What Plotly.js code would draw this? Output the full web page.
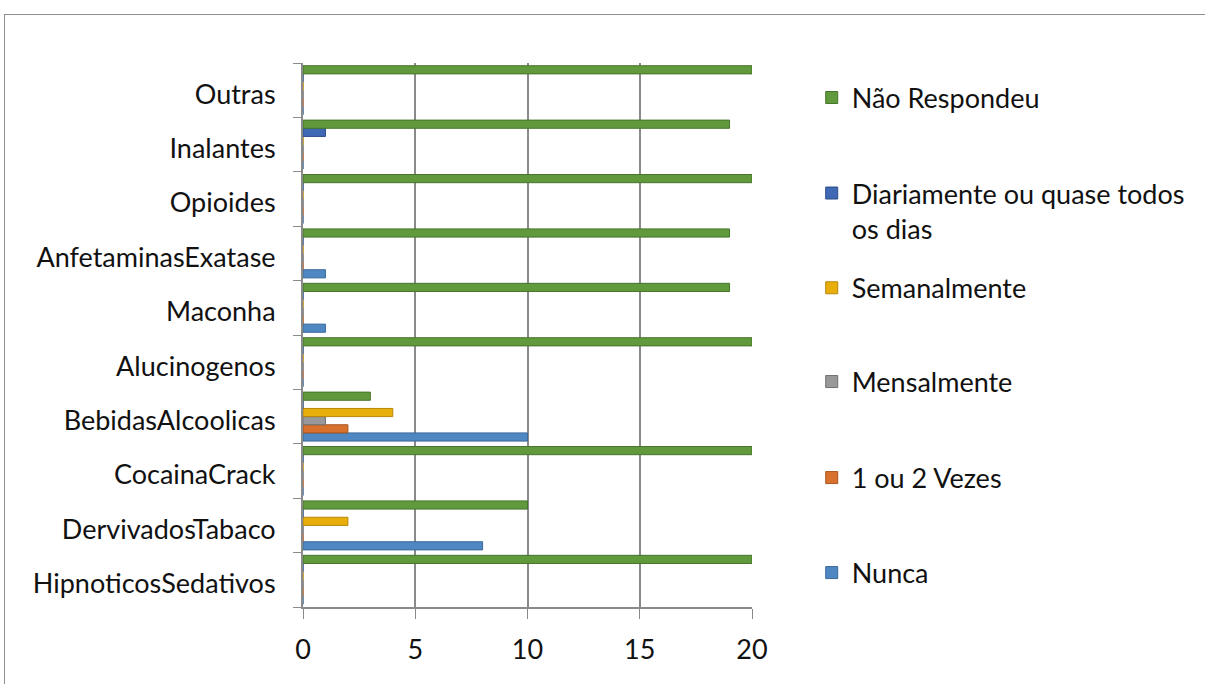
<!DOCTYPE html>
<html>
<head>
<meta charset="utf-8">
<script src="https://cdn.plot.ly/plotly-3.0.1.min.js"></script>
<style>
  html, body { margin: 0; padding: 0; background: #fff; overflow: hidden; }
  #wrap { position: relative; width: 1205px; height: 684px; overflow: hidden; }
  #frame { position: absolute; left: 4px; top: 14px; width: 1400px; height: 900px;
           border: 1.5px solid #8f8f8f; box-sizing: border-box; pointer-events: none; }
  #chart { position: absolute; left: 0; top: 0; width: 1205px; height: 684px; }
</style>
</head>
<body>
<div id="wrap">
  <div id="chart"></div>
  <div id="frame"></div>
</div>
<script>
// Substances, listed bottom to top
const categories = ['HipnoticosSedativos', 'DervivadosTabaco', 'CocainaCrack', 'BebidasAlcoolicas',
  'Alucinogenos', 'Maconha', 'AnfetaminasExatase', 'Opioides', 'Inalantes', 'Outras'];

// Answers per frequency of use
const nunca      = [0, 8, 0, 10, 0, 1, 1, 0, 0, 0];
const umOuDois   = [0, 0, 0, 2, 0, 0, 0, 0, 0, 0];
const mensal     = [0, 0, 0, 1, 0, 0, 0, 0, 0, 0];
const semanal    = [0, 2, 0, 4, 0, 0, 0, 0, 0, 0];
const diario     = [0, 0, 0, 0, 0, 0, 0, 0, 1, 0];
const naoResp    = [20, 10, 20, 3, 20, 19, 19, 20, 19, 20];

const seriesNames = ['Nunca', '1 ou 2 Vezes', 'Mensalmente', 'Semanalmente',
  'Diariamente ou quase todos<br>os dias', 'Não Respondeu'];
const seriesValues = [nunca, umOuDois, mensal, semanal, diario, naoResp];
const fills = ['#4f87c2', '#d8712e', '#999999', '#e8ae0c', '#3f68b5', '#609a3c'];
const edges = ['#3a6a9c', '#a9561f', '#6f6f6f', '#b78708', '#2e4f8a', '#47742b'];

// Each series gets its own legend box so the key entries can be spaced freely
const legendIds = ['legend', 'legend2', 'legend3', 'legend4', 'legend5', 'legend6'];
const legendY = [0.0625, 0.2371, 0.4136, 0.586, 0.728, 0.9357];

const traces = seriesNames.map((name, i) => ({
  type: 'bar',
  orientation: 'h',
  name: name,
  y: categories,
  x: seriesValues[i],
  legend: legendIds[i],
  marker: { color: fills[i], line: { color: edges[i], width: 1 } },
  hoverinfo: 'x+name'
}));

const font = { family: 'Lato, "Open Sans", sans-serif', size: 27, color: '#111111' };

const layout = {
  width: 1205,
  height: 684,
  margin: { l: 303, r: 453, t: 63, b: 77 },
  paper_bgcolor: 'rgba(0,0,0,0)',
  plot_bgcolor: 'rgba(0,0,0,0)',
  font: font,
  barmode: 'group',
  bargap: 0.1,
  bargroupgap: 0,
  showlegend: true,
  xaxis: {
    range: [0, 20],
    tickvals: [0, 5, 10, 15, 20],
    ticktext: ['0', '5', '10', '15', '20'],
    showgrid: true,
    gridcolor: '#8a8a8a',
    gridwidth: 2,
    zeroline: false,
    showline: true,
    linecolor: '#8a8a8a',
    linewidth: 2,
    ticks: 'outside',
    ticklen: 10,
    tickcolor: '#8a8a8a',
    ticklabelstandoff: 8,
    fixedrange: true
  },
  yaxis: {
    type: 'category',
    categoryorder: 'array',
    categoryarray: categories,
    showgrid: false,
    zeroline: false,
    showline: true,
    linecolor: '#8a8a8a',
    linewidth: 2,
    ticks: 'outside',
    tickson: 'boundaries',
    ticklen: 8,
    tickcolor: '#8a8a8a',
    ticklabelstandoff: 20,
    ticklabelshift: 4,
    fixedrange: true
  }
};

legendIds.forEach((id, i) => {
  layout[id] = {
    x: 1.133, xanchor: 'left',
    y: legendY[i], yanchor: 'middle',
    valign: 'top',
    font: font,
    bgcolor: 'rgba(0,0,0,0)',
    itemwidth: 30,
    itemclick: false,
    itemdoubleclick: false
  };
});

Plotly.newPlot('chart', traces, layout, { displayModeBar: false });
</script>
</body>
</html>
